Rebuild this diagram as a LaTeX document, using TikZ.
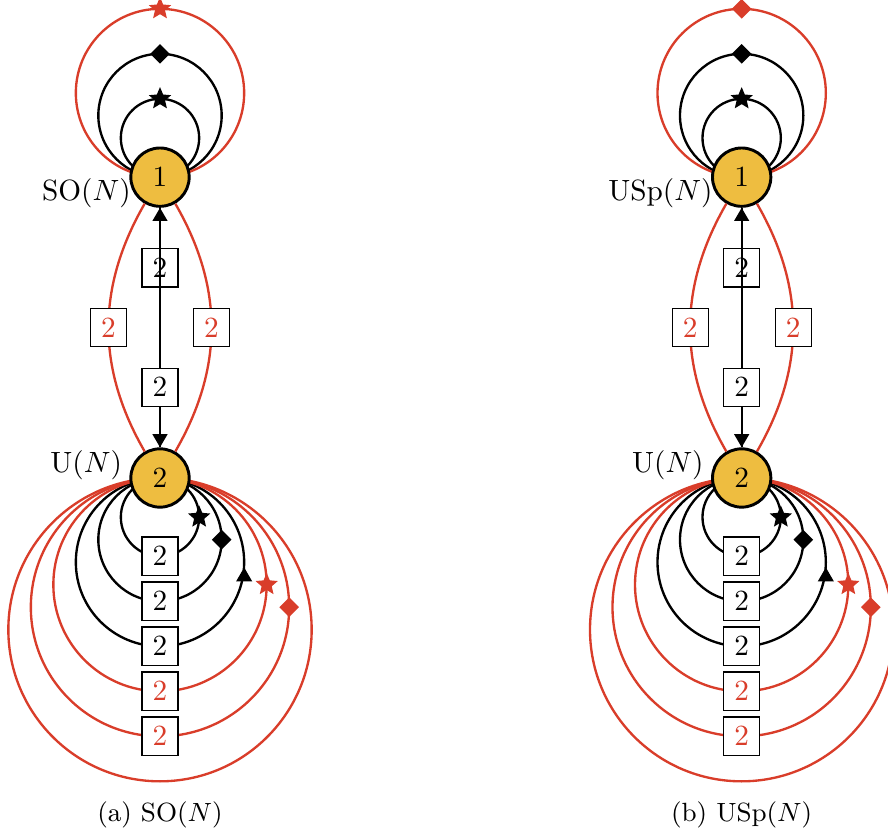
\documentclass[tikz,border=0pt]{standalone}
\usetikzlibrary{positioning,shapes.geometric,arrows.meta,backgrounds}
\definecolor{nodeyellow}{RGB}{238,189,64}
\definecolor{linered}{RGB}{217,61,42}
\tikzset{
  gauge/.style={circle, draw, line width=1pt, fill=nodeyellow, minimum size=7mm, inner sep=0pt},
  numbox/.style={rectangle, draw=black, thin, fill=white, minimum width=12.3pt, minimum height=13.2pt},
  link/.style={thick},
  arr/.style={thick, -{Triangle[width=5pt,length=4.5pt]}},
  starmark/.style={star, star points=5, star point ratio=2.2, fill, inner sep=0pt, minimum size=8pt},
  diamark/.style={diamond, fill, inner sep=0pt, minimum size=7pt},
  trimark/.style={regular polygon, regular polygon sides=3, fill, inner sep=0pt, minimum size=6.4pt, anchor=corner 1, yshift=-1pt}
}
\begin{document}
\begin{tikzpicture}
  \useasboundingbox (-1.92,-4.332) rectangle (8.736,5.736);
  \foreach \p/\x/\grp/\topmark in {a/0/SO/starmark, b/6.98/USp/diamark} {
    \begin{scope}[shift={(\x,0)}]
      % gauge nodes and their labels
      \node[gauge] (\p1) at (0,3.61) {$1$};
      \node[gauge] (\p2) at (0,0) {$2$};
      \node[left=-4pt of \p1, yshift=-5.5pt] (\p lab1) {$\mathrm{\grp}(N)$};
      \node[left=-1pt of \p2, yshift=4.5pt] (\p lab2) {$\mathrm{U}(N)$};

      % edges between the two nodes
      \draw[arr] (\p2) -- node[numbox, pos=0.75] (\p u) {$2$} (\p1);
      \draw[arr] (\p1) -- node[numbox, pos=0.75] (\p d) {$2$} (\p2);
      \draw[link, linered] (\p1) to[bend right=30] node[numbox] (\p l) {$2$} (\p2);
      \draw[link, linered] (\p1) to[bend left=30] node[numbox] (\p r) {$2$} (\p2);

      % self-loops, behind the nodes
      \begin{scope}[on background layer]
        \foreach \r/\c/\m [count=\i] in {0.47/black/starmark, 0.74/black/diamark}
          \draw[link, \c] (\p1.center) arc[start angle=-90, end angle=90, radius=\r]
            node[\m] (\p t\i) {} arc[start angle=90, end angle=270, radius=\r];
        \draw[link, linered] (\p1.center) arc[start angle=-90, end angle=90, radius=1.01]
          node[\topmark] (\p t3) {} arc[start angle=90, end angle=270, radius=1.01];
        \foreach \r/\c/\m [count=\i] in {0.47/black/starmark, 0.74/black/diamark, 1.01/black/trimark, 1.28/linered/starmark, 1.55/linered/diamark}
          \draw[link, \c] (\p2.center) arc[start angle=90, end angle=270, radius=\r]
            node[numbox] (\p b\i) {$2$} arc[start angle=270, end angle=360, radius=\r]
            node[\m] (\p m\i) {} arc[start angle=0, end angle=90, radius=\r];
        \draw[link, linered] (\p2.center) arc[start angle=90, end angle=450, radius=1.82];
      \end{scope}

      % caption
      \node[font=\small] (\p cap) at (0,-4.04) {(\p) $\mathrm{\grp}(N)$};
    \end{scope}
  }
\end{tikzpicture}
\end{document}
